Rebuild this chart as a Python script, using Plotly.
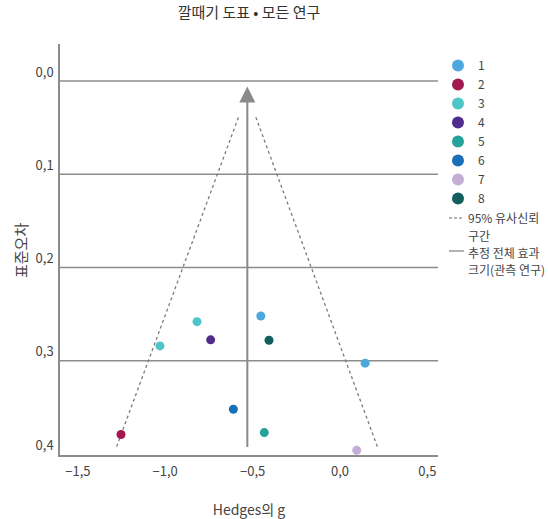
import plotly.graph_objects as go

# Study estimates: Hedges' g and its standard error
studies = ["1", "1", "2", "3", "3", "4", "5", "6", "7", "8"]
hedges_g = [-0.453, 0.144, -1.253, -0.818, -1.030, -0.740, -0.433, -0.610, 0.096, -0.406]
std_err = [0.252, 0.3025, 0.379, 0.258, 0.284, 0.2775, 0.377, 0.352, 0.396, 0.278]

legend_order = ["1", "2", "3", "4", "5", "6", "7", "8"]
study_colors = {
    "1": "#4ea8de",
    "2": "#a3184e",
    "3": "#4ec5c7",
    "4": "#4f2c8e",
    "5": "#25a29a",
    "6": "#1b6fb9",
    "7": "#c4aed5",
    "8": "#135e5e",
}

# Pooled effect and 95% pseudo-confidence funnel
pooled_g = -0.53
pooled_se = [0.394, 0.006]
funnel_se = [0.392, 0.0365]
funnel_lower = [-1.278, -0.576]
funnel_upper = [0.214, -0.486]

grid_se = [0.0, 0.1, 0.2, 0.3]
x_ticks = [-1.5, -1.0, -0.5, 0.0, 0.5]
y_ticks = [0.0, 0.1, 0.2, 0.3, 0.4]

font_family = "Noto Sans CJK KR, Noto Sans, sans-serif"
text_color = "#444444"
grid_color = "#8c8c8c"

# plot area in pixels
W, H = 548, 519
L, R, T, B = 60, 110, 44, 64
PW, PH = W - L - R, H - T - B


def px_x(px):
    return (px - L) / PW


def px_y(py):
    return 1 - (py - T) / PH


fig = go.Figure()

# funnel boundaries
fig.add_trace(go.Scatter(
    x=funnel_lower, y=funnel_se, mode="lines",
    line=dict(color="#7a7a7a", width=1.3, dash="3px,3px"),
    showlegend=False, hoverinfo="skip"))
fig.add_trace(go.Scatter(
    x=funnel_upper, y=funnel_se, mode="lines",
    line=dict(color="#7a7a7a", width=1.3, dash="3px,3px"),
    showlegend=False, hoverinfo="skip"))

# study points, one trace per study
for s in legend_order:
    xs = [g for g, name in zip(hedges_g, studies) if name == s]
    ys = [e for e, name in zip(std_err, studies) if name == s]
    fig.add_trace(go.Scatter(
        x=xs, y=ys, mode="markers", name=s,
        marker=dict(color=study_colors[s], size=9),
    ))

# horizontal reference lines
for g in grid_se:
    fig.add_shape(type="line", xref="paper", x0=0, x1=1, yref="y", y0=g, y1=g,
                  line=dict(color=grid_color, width=1.5), layer="below")

# pooled effect line with arrow
fig.add_annotation(
    x=pooled_g, y=pooled_se[1], ax=pooled_g, ay=pooled_se[0],
    xref="x", yref="y", axref="x", ayref="y",
    showarrow=True, arrowhead=2, arrowsize=1.6, arrowwidth=2,
    arrowcolor="#8a8a8a", text="")

# key for the line marks
fig.add_shape(type="line", xref="paper", yref="paper",
              x0=px_x(449), x1=px_x(464), y0=px_y(218), y1=px_y(218),
              line=dict(color="#666666", width=1, dash="3px,2px"))
fig.add_shape(type="line", xref="paper", yref="paper",
              x0=px_x(449), x1=px_x(464), y0=px_y(251), y1=px_y(251),
              line=dict(color="#666666", width=1))
notes = [
    (218, "95% 유사신뢰"),
    (235, "구간"),
    (252, "추정 전체 효과"),
    (269, "크기(관측 연구)"),
]
for py, txt in notes:
    fig.add_annotation(
        xref="paper", yref="paper", x=px_x(466), y=px_y(py),
        xanchor="left", yanchor="middle", showarrow=False,
        text=txt, font=dict(size=12, color=text_color, family=font_family))

# y-axis title
fig.add_annotation(
    xref="paper", yref="paper", x=px_x(20), y=px_y(251),
    xanchor="center", yanchor="middle", showarrow=False, textangle=-90,
    text="표준오차", font=dict(size=15, color=text_color, family=font_family))

fig.update_layout(
    width=W, height=H,
    margin=dict(l=L, r=R, t=T, b=B),
    paper_bgcolor="white", plot_bgcolor="white",
    separators=",.",
    font=dict(family=font_family, size=13, color=text_color),
    title=dict(text="깔때기 도표 • 모든 연구", x=(L + PW / 2) / W, xanchor="center",
               y=1 - 13 / H, yanchor="middle",
               font=dict(size=15, color="#333333", family=font_family)),
    legend=dict(x=1.0, xanchor="left", y=px_y(51), yanchor="top",
                font=dict(size=12, color=text_color), tracegroupgap=0,
                itemsizing="constant", bgcolor="rgba(0,0,0,0)"),
    showlegend=True,
)

fig.update_xaxes(
    range=[-1.602, 0.561], tickvals=x_ticks, tickformat=".1f", automargin=False,
    showgrid=False, zeroline=False, showline=True, linecolor=grid_color, linewidth=1.5,
    ticks="", tickfont=dict(size=13, color=text_color), ticklabelstandoff=4,
    title=dict(text="Hedges의 g", standoff=34, font=dict(size=14, color=text_color)),
)
fig.update_yaxes(
    range=[0.401, -0.0397], tickvals=y_ticks, tickformat=".1f", automargin=False,
    showgrid=False, zeroline=False, showline=True, linecolor=grid_color, linewidth=1.5,
    ticks="", tickfont=dict(size=13, color=text_color), ticklabelshift=9, ticklabelstandoff=2,
)

fig.write_html("out.html")
